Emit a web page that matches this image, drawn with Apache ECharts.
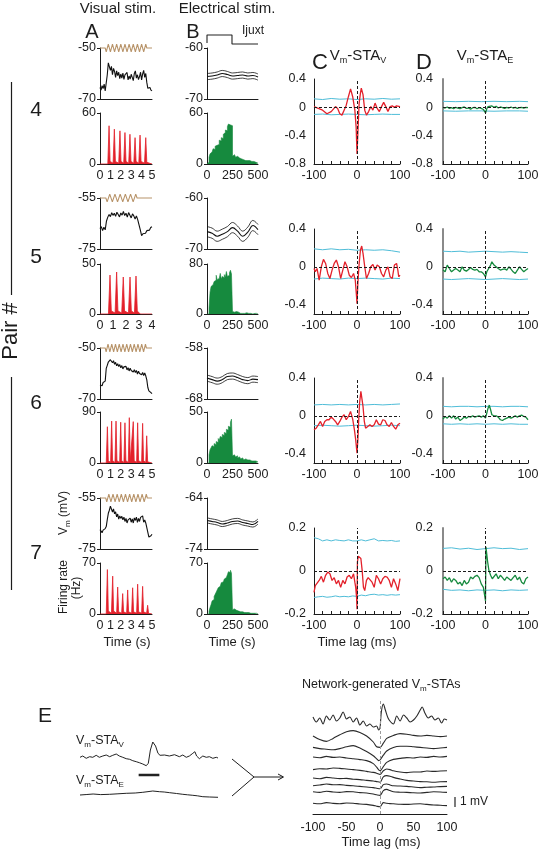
<!DOCTYPE html>
<html><head><meta charset="utf-8">
<script src="https://cdn.jsdelivr.net/npm/echarts@6/dist/echarts.min.js"></script>
<style>html,body{margin:0;padding:0;background:#fff}#c{width:538px;height:852px}</style>
</head><body><div id="c"></div>
<script>
// ---------------- DATA ----------------
// Visual stimulation (A): stimulus trace, Vm (sampled every 0.1 s), firing rate
const vis4Stim = [[0,-50],[0.5,-50],[0.6,-51.5],[0.8,-48.5],[1.0,-51.5],[1.2,-48.5],[1.4,-51.5],[1.6,-48.5],[1.8,-51.5],[2.0,-48.5],[2.2,-51.5],[2.4,-48.5],[2.6,-51.5],[2.8,-48.5],[3.0,-51.5],[3.2,-48.5],[3.4,-51.5],[3.6,-48.5],[3.8,-51.5],[4.0,-48.5],[4.2,-51.5],[4.4,-48.5],[4.5,-50],[5,-50]];
const vis4Vm = [-65.5,-66.5,-64.8,-65.9,-64.2,-66.8,-67.2,-60.5,-55.8,-56.5,-58.8,-57.2,-60.5,-58.0,-59.2,-61.5,-59.0,-60.8,-59.5,-62.0,-60.2,-61.8,-59.8,-62.3,-60.5,-61.2,-59.6,-62.5,-61.0,-62.2,-60.3,-61.5,-62.8,-60.0,-59.0,-61.8,-60.5,-62.4,-61.2,-59.5,-62.5,-60.2,-58.8,-61.5,-60.0,-63.5,-65.8,-66.2,-65.5,-66.5,-66.8];
const vis4Rate = [[0,0],[0.75,0],[0.87,45],[0.97,3],[1.26,1],[1.38,41],[1.48,3],[1.8,1],[1.92,39],[2.02,3],[2.28,1],[2.4,37],[2.5,3],[2.76,1],[2.88,35],[2.98,3],[3.25,1],[3.37,31],[3.47,3],[3.73,1],[3.85,34],[3.95,3],[4.28,1],[4.4,31],[4.5,2],[4.6,0],[5,0]];

const vis5Stim = [[0,-55],[0.45,-55],[0.55,-56.5],[0.75,-53.5],[0.95,-56.5],[1.15,-53.5],[1.35,-56.5],[1.55,-53.5],[1.75,-56.5],[1.95,-53.5],[2.15,-56.5],[2.35,-53.5],[2.55,-56.5],[2.75,-53.5],[2.85,-55],[4,-55]];
const vis5Vm = [-67.0,-66.2,-67.8,-66.5,-67.5,-64.0,-62.5,-61.5,-62.3,-60.8,-61.8,-61.0,-62.2,-60.6,-61.5,-62.4,-60.9,-61.7,-60.3,-61.9,-61.0,-62.5,-60.7,-61.4,-62.8,-61.2,-62.0,-63.2,-62.0,-63.5,-64.0,-67.5,-69.8,-69.0,-68.5,-68.8,-67.8,-67.2,-67.6,-66.6,-66.3];
const vis5Rate = [[0,0],[0.65,0],[0.77,39],[0.87,3],[1.16,1],[1.28,42],[1.38,3],[1.67,1],[1.79,37],[1.89,3],[2.19,1],[2.31,37],[2.41,3],[2.65,1],[2.77,38],[2.87,3],[3.1,0],[3.2,2],[3.3,0],[4,0]];

const vis6Stim = [[0,-50],[0.5,-50],[0.59,-51.5],[0.77,-48.5],[0.95,-51.5],[1.13,-48.5],[1.31,-51.5],[1.49,-48.5],[1.67,-51.5],[1.85,-48.5],[2.03,-51.5],[2.21,-48.5],[2.39,-51.5],[2.57,-48.5],[2.75,-51.5],[2.93,-48.5],[3.11,-51.5],[3.29,-48.5],[3.47,-51.5],[3.65,-48.5],[3.83,-51.5],[4.01,-48.5],[4.19,-51.5],[4.37,-48.5],[4.46,-50],[5,-50]];
const vis6Vm = [-64.5,-63.8,-64.8,-63.5,-63.9,-63.0,-58.0,-56.8,-55.5,-56.2,-54.6,-54.0,-55.8,-55.0,-56.4,-55.6,-57.0,-56.2,-57.3,-56.5,-57.8,-56.9,-58.2,-57.4,-58.0,-57.2,-58.6,-57.7,-59.0,-57.9,-58.8,-58.2,-59.4,-58.5,-59.6,-58.8,-60.2,-59.1,-60.0,-59.3,-60.5,-59.6,-60.8,-59.8,-60.9,-62.5,-65.5,-66.8,-66.2,-67.5,-67.9];
const vis6Rate = [[0,0],[0.6,0],[0.71,64],[0.8,4],[1.02,1],[1.12,74],[1.21,4],[1.44,1],[1.54,74],[1.63,4],[1.89,1],[1.99,72],[2.08,4],[2.3,1],[2.4,71],[2.49,4],[2.72,1],[2.82,80],[2.91,4],[3.1,1],[3.2,73],[3.29,4],[3.52,1],[3.62,71],[3.71,4],[4.0,1],[4.1,70],[4.19,4],[4.4,1],[4.49,48],[4.58,2],[4.7,0],[5,0]];

const vis7Stim = [[0,-55],[0.55,-55],[0.65,-56.5],[0.85,-53.5],[1.05,-56.5],[1.25,-53.5],[1.45,-56.5],[1.65,-53.5],[1.85,-56.5],[2.05,-53.5],[2.25,-56.5],[2.45,-53.5],[2.65,-56.5],[2.85,-53.5],[3.05,-56.5],[3.25,-53.5],[3.45,-56.5],[3.65,-53.5],[3.85,-56.5],[4.05,-53.5],[4.25,-56.5],[4.45,-53.5],[4.55,-55],[5,-55]];
const vis7Vm = [-67.4,-68.0,-68.6,-67.6,-68.2,-67.0,-66.2,-63.5,-61.0,-59.8,-58.2,-57.8,-60.5,-59.3,-61.2,-60.4,-62.4,-61.3,-63.3,-62.0,-63.0,-62.2,-63.6,-62.5,-64.2,-63.0,-64.8,-63.6,-64.3,-62.9,-64.5,-63.2,-64.8,-62.8,-63.8,-62.5,-64.6,-63.0,-64.2,-62.6,-63.0,-62.0,-64.5,-63.6,-64.8,-65.5,-68.5,-70.3,-70.8,-69.8,-69.2];
const vis7Rate = [[0,0],[0.6,0],[0.71,61],[0.8,4],[1.1,1],[1.22,52],[1.31,4],[1.6,1],[1.7,37],[1.79,3],[2.08,1],[2.18,28],[2.27,3],[2.56,1],[2.66,33],[2.75,3],[3.04,1],[3.14,36],[3.23,3],[3.52,1],[3.62,41],[3.71,3],[4.0,1],[4.1,38],[4.19,3],[4.48,1],[4.58,12],[4.67,1],[4.8,0],[5,0]];

// Electrical stimulation (B): Vm mean / +-SEM every 50 ms, firing rate in 10 ms bins
const ijuxtStep = [[0,0.1],[0,1],[245,1],[245,0],[500,0]];
const elec4Mean = [-65.6,-65.5,-65.3,-65.0,-65.2,-65.5,-65.4,-65.3,-65.5,-65.4,-65.7];
const elec4Up   = [-65.0,-64.9,-64.7,-64.4,-64.6,-64.9,-64.8,-64.7,-64.9,-64.8,-65.1];
const elec4Low  = [-66.2,-66.1,-65.9,-65.6,-65.8,-66.1,-66.0,-65.9,-66.1,-66.0,-66.3];
const elec4Rate = [0,2,8,12,14,16,18,17,21,22,24,23,28,27,31,30,35,37,40,39,44,47,46,48,45,9,11,10,8,9,8,7,7,6,6,5,5,4,5,4,3,4,3,3,2,3,2,2,1,1];

const elec5Mean = [-66.6,-66.9,-67.5,-67.1,-66.6,-65.8,-66.5,-67.5,-66.7,-65.4,-66.2];
const elec5Up   = [-65.6,-65.9,-66.5,-66.1,-65.6,-64.8,-65.5,-66.5,-65.7,-64.4,-65.2];
const elec5Low  = [-67.6,-67.9,-68.5,-68.1,-67.6,-66.8,-67.5,-68.5,-67.7,-66.4,-67.2];
const elec5Rate = [0,0,10,35,44,47,50,52,54,62,55,57,58,65,56,60,58,63,59,68,60,62,66,70,64,4,3,3,4,2,3,2,1,2,1,2,1,1,2,1,1,0,1,1,0,1,1,0,1,0];

const elec6Mean = [-63.9,-64.2,-64.5,-64.2,-63.6,-63.5,-63.8,-64.2,-64.4,-64.1,-64.2];
const elec6Up   = [-63.3,-63.6,-63.9,-63.6,-63.0,-62.9,-63.2,-63.6,-63.8,-63.5,-63.6];
const elec6Low  = [-64.5,-64.8,-65.1,-64.8,-64.2,-64.1,-64.4,-64.8,-65.0,-64.7,-64.8];
const elec6Rate = [0,0,8,13,15,17,16,19,18,21,20,24,22,26,25,28,27,30,29,33,32,36,35,40,43,7,8,7,6,7,5,6,5,4,5,4,3,4,3,3,2,3,2,2,3,2,1,2,1,1];

const elec7Mean = [-68.4,-68.6,-68.8,-69.1,-68.9,-68.6,-68.5,-68.8,-69.0,-69.2,-68.6];
const elec7Up   = [-67.9,-68.1,-68.3,-68.6,-68.4,-68.1,-68.0,-68.3,-68.5,-68.7,-68.1];
const elec7Low  = [-68.9,-69.1,-69.3,-69.6,-69.4,-69.1,-69.0,-69.3,-69.5,-69.7,-69.1];
const elec7Rate = [0,0,4,9,13,18,20,24,27,30,33,36,38,40,43,44,46,48,50,52,54,58,57,60,56,6,7,6,5,5,4,4,3,3,3,2,2,2,2,1,2,1,1,1,1,1,1,0,1,0];

// Vm-STA_V (C) and Vm-STA_E (D): [lag ms, value], with significance bands
const staV4 = [[-100,0.01],[-90,-0.015],[-80,-0.04],[-70,-0.09],[-60,-0.06],[-50,0.01],[-45,-0.015],[-40,-0.09],[-35,-0.11],[-30,-0.04],[-25,0.03],[-20,0.15],[-15,0.26],[-10,0.15],[-5,-0.04],[-2,-0.28],[0,-0.66],[2,-0.37],[5,0.06],[8,0.2],[10,0.27],[14,0.18],[18,-0.04],[22,-0.11],[27,-0.06],[32,0.01],[37,-0.04],[42,0.06],[47,-0.015],[52,-0.06],[57,0.01],[62,0.07],[67,0.01],[72,-0.06],[77,0.01],[82,0.02],[87,0.0],[92,0.02],[100,0.01]];
const staV4Up  = [[-100,0.12],[-80,0.11],[-60,0.125],[-40,0.115],[-20,0.12],[0,0.11],[20,0.12],[40,0.115],[60,0.125],[80,0.115],[100,0.12]];
const staV4Low = [[-100,-0.1],[-80,-0.095],[-60,-0.105],[-40,-0.1],[-20,-0.095],[0,-0.1],[20,-0.105],[40,-0.1],[60,-0.095],[80,-0.1],[100,-0.1]];
const staE4 = [[-100,0],[-95,-0.01],[-90,0.005],[-85,-0.015],[-80,-0.005],[-75,-0.02],[-70,0],[-65,-0.01],[-60,-0.02],[-55,-0.005],[-50,0.005],[-45,-0.015],[-40,-0.01],[-35,-0.025],[-30,-0.005],[-25,0],[-20,-0.02],[-15,-0.005],[-10,-0.015],[-5,-0.03],[0,-0.08],[3,-0.02],[6,0.01],[10,0.03],[15,0.02],[20,0.0],[25,0.015],[30,-0.01],[35,0.005],[40,-0.005],[45,-0.015],[50,0],[55,-0.01],[60,0.005],[65,-0.01],[70,0],[75,-0.015],[80,-0.005],[85,0],[90,-0.01],[95,0],[100,-0.005]];
const staE4Up  = [[-100,0.085],[-70,0.08],[-40,0.085],[-10,0.08],[20,0.085],[50,0.08],[80,0.085],[100,0.08]];
const staE4Low = [[-100,-0.05],[-70,-0.055],[-40,-0.05],[-10,-0.05],[20,-0.055],[50,-0.05],[80,-0.05],[100,-0.055]];

const staV5 = [[-100,-0.018],[-97,-0.053],[-93,-0.018],[-88,-0.142],[-83,0],[-78,0.078],[-73,0.035],[-68,-0.071],[-63,-0.124],[-58,-0.035],[-53,0.035],[-48,0.071],[-43,0],[-38,-0.124],[-33,-0.035],[-28,0.053],[-23,0],[-18,-0.089],[-13,-0.113],[-8,-0.071],[-4,-0.142],[-1,-0.319],[0,-0.39],[2,-0.177],[5,0.035],[8,0.177],[11,0.22],[14,0.142],[18,0],[22,-0.124],[27,-0.071],[32,0],[37,0.025],[42,-0.035],[47,0.018],[52,0],[57,-0.071],[62,-0.106],[67,-0.035],[72,0],[77,-0.106],[82,-0.124],[87,0.018],[92,0.035],[95,-0.035],[97,-0.106],[100,-0.089]];
const staV5Up  = [[-100,0.19],[-80,0.18],[-60,0.19],[-40,0.18],[-20,0.185],[0,0.175],[20,0.18],[40,0.175],[60,0.18],[80,0.17],[100,0.155]];
const staV5Low = [[-100,-0.13],[-80,-0.12],[-60,-0.125],[-40,-0.13],[-20,-0.12],[0,-0.125],[20,-0.12],[40,-0.125],[60,-0.13],[80,-0.12],[100,-0.125]];
const staE5 = [[-100,-0.035],[-95,-0.053],[-90,0.018],[-85,-0.018],[-80,-0.053],[-75,-0.035],[-70,-0.018],[-65,-0.035],[-60,-0.053],[-55,0],[-50,-0.035],[-45,-0.046],[-40,-0.028],[-35,-0.007],[-30,-0.028],[-25,-0.035],[-20,-0.028],[-15,-0.053],[-10,-0.053],[-5,-0.071],[0,-0.106],[3,-0.053],[7,-0.035],[12,0.018],[15,0.053],[20,0.018],[25,0],[30,-0.018],[35,-0.035],[40,-0.028],[45,-0.021],[50,-0.035],[55,0],[60,-0.025],[65,-0.053],[70,-0.071],[75,-0.035],[80,0],[85,-0.028],[90,-0.053],[95,-0.035],[100,-0.018]];
const staE5Up  = [[-100,0.165],[-80,0.16],[-60,0.165],[-40,0.155],[-20,0.16],[0,0.165],[20,0.16],[40,0.155],[60,0.16],[80,0.155],[100,0.15]];
const staE5Low = [[-100,-0.13],[-80,-0.135],[-60,-0.13],[-40,-0.125],[-20,-0.13],[0,-0.135],[20,-0.13],[40,-0.125],[60,-0.13],[80,-0.135],[100,-0.13]];

const staV6 = [[-100,-0.149],[-95,-0.131],[-90,-0.096],[-85,-0.06],[-80,-0.113],[-75,-0.06],[-70,-0.042],[-65,-0.042],[-60,-0.014],[-55,-0.035],[-50,-0.06],[-45,-0.096],[-40,-0.06],[-35,-0.014],[-30,0.011],[-25,-0.042],[-20,-0.007],[-15,0.046],[-10,-0.035],[-6,-0.149],[-3,-0.255],[0,-0.396],[2,-0.255],[4,-0.042],[6,0.135],[9,0.258],[11,0.241],[14,0.099],[17,-0.06],[20,-0.131],[25,-0.113],[30,-0.096],[35,-0.113],[40,-0.096],[45,-0.042],[50,-0.088],[55,-0.096],[60,-0.042],[65,-0.05],[70,-0.096],[75,-0.113],[80,-0.071],[85,-0.113],[90,-0.142],[95,-0.096],[100,-0.078]];
const staV6Up  = [[-100,0.115],[-80,0.12],[-60,0.115],[-40,0.12],[-20,0.115],[0,0.12],[20,0.115],[40,0.12],[60,0.115],[80,0.12],[100,0.125]];
const staV6Low = [[-100,-0.105],[-80,-0.1],[-60,-0.105],[-40,-0.11],[-20,-0.105],[0,-0.1],[20,-0.105],[40,-0.11],[60,-0.105],[80,-0.1],[100,-0.105]];
const staE6 = [[-100,-0.035],[-95,-0.007],[-90,-0.025],[-85,0],[-80,-0.025],[-75,0],[-70,-0.035],[-65,-0.014],[-60,-0.05],[-55,-0.035],[-50,-0.014],[-45,-0.025],[-40,-0.007],[-35,-0.014],[-30,0],[-25,-0.014],[-20,-0.007],[-15,0],[-10,-0.014],[-5,0],[0,-0.025],[3,0.028],[6,0.081],[9,0.113],[12,0.064],[15,0.011],[20,0],[25,0],[30,-0.014],[35,-0.042],[40,-0.05],[45,-0.035],[50,-0.025],[55,-0.014],[60,-0.025],[65,-0.014],[70,0],[75,-0.014],[80,0],[85,0.007],[90,-0.007],[95,-0.014],[100,-0.042]];
const staE6Up  = [[-100,0.1],[-80,0.095],[-60,0.1],[-40,0.1],[-20,0.095],[0,0.1],[20,0.1],[40,0.095],[60,0.1],[80,0.1],[100,0.095]];
const staE6Low = [[-100,-0.085],[-80,-0.09],[-60,-0.085],[-40,-0.09],[-20,-0.085],[0,-0.09],[20,-0.085],[40,-0.09],[60,-0.085],[80,-0.09],[100,-0.09]];

const staV7 = [[-100,-0.099],[-97,-0.068],[-93,-0.076],[-88,-0.044],[-83,-0.025],[-78,-0.052],[-73,-0.02],[-68,-0.005],[-63,-0.013],[-58,-0.044],[-53,-0.031],[-48,-0.06],[-43,-0.044],[-38,-0.076],[-33,-0.044],[-28,-0.06],[-23,-0.028],[-18,-0.02],[-13,-0.036],[-8,-0.013],[-5,-0.052],[-3,-0.076],[-1,-0.123],[0,-0.178],[1,0.043],[3,0.069],[6,0.066],[9,0.058],[12,0.003],[15,-0.076],[18,-0.091],[22,-0.044],[26,-0.031],[30,-0.025],[35,-0.052],[40,-0.076],[45,-0.02],[50,-0.036],[55,-0.06],[60,-0.036],[65,-0.025],[70,-0.028],[75,-0.044],[80,-0.076],[85,-0.036],[90,-0.06],[95,-0.091],[100,-0.036]];
const staV7Up  = [[-100,0.155],[-90,0.15],[-80,0.14],[-70,0.145],[-60,0.14],[-50,0.145],[-40,0.142],[-30,0.14],[-20,0.145],[-10,0.14],[0,0.14],[10,0.145],[20,0.14],[30,0.145],[40,0.15],[50,0.14],[60,0.142],[70,0.14],[80,0.142],[90,0.138],[100,0.14]];
const staV7Low = [[-100,-0.123],[-90,-0.12],[-80,-0.118],[-70,-0.122],[-60,-0.12],[-50,-0.116],[-40,-0.12],[-30,-0.118],[-20,-0.12],[-10,-0.116],[0,-0.118],[10,-0.112],[20,-0.115],[30,-0.11],[40,-0.108],[50,-0.112],[60,-0.11],[70,-0.113],[80,-0.11],[90,-0.112],[100,-0.11]];
const staE7 = [[-100,-0.036],[-95,-0.028],[-90,-0.044],[-85,-0.031],[-80,-0.052],[-75,-0.036],[-70,-0.044],[-65,-0.06],[-60,-0.052],[-55,-0.068],[-50,-0.044],[-45,-0.06],[-40,-0.052],[-35,-0.028],[-30,-0.036],[-25,-0.025],[-20,-0.02],[-15,-0.031],[-10,-0.06],[-5,-0.076],[-2,-0.083],[0,-0.139],[1,0.113],[3,0.106],[5,0.043],[8,0.003],[12,-0.02],[16,-0.036],[20,-0.028],[25,-0.013],[30,-0.036],[35,-0.02],[40,-0.031],[45,-0.044],[50,-0.028],[55,-0.036],[60,-0.044],[65,-0.031],[70,-0.02],[75,-0.041],[80,-0.028],[85,-0.052],[90,-0.06],[95,-0.036],[100,-0.028]];
const staE7Up  = [[-100,0.105],[-80,0.108],[-60,0.102],[-40,0.106],[-20,0.1],[0,0.104],[20,0.108],[40,0.104],[60,0.106],[80,0.1],[100,0.104]];
const staE7Low = [[-100,-0.085],[-80,-0.09],[-60,-0.088],[-40,-0.092],[-20,-0.088],[0,-0.09],[20,-0.088],[40,-0.092],[60,-0.088],[80,-0.09],[100,-0.088]];

// Panel E left: example Vm-STAs (arbitrary mV offset)
const eStaV = [[-100,4.77],[-96,4.9],[-91,4.67],[-86,4.83],[-81.5,4.77],[-76.5,4.97],[-72,4.77],[-67,4.9],[-62,5.0],[-57,4.83],[-52.5,4.97],[-47.5,5.1],[-43,4.9],[-38,4.77],[-33,4.63],[-28,4.57],[-23.5,4.43],[-18.5,4.33],[-14,4.23],[-9,4.1],[-4,3.93],[-1,4.17],[2,5.5],[5.5,6.3],[9.5,5.9],[13,5.17],[16,4.97],[22.5,5.0],[29.5,4.9],[37,5.03],[44,4.83],[49,5.0],[54,4.77],[58.5,4.9],[63.5,5.17],[66.5,5.33],[69,4.9],[73,4.63],[78,4.9],[83,4.77],[87.5,4.83],[92.5,4.67],[97.5,4.77],[100,4.7]];
const eStaE = [[-100,1.0],[-90,1.05],[-81,1.1],[-70,1.04],[-57,1.07],[-45,1.12],[-33,1.17],[-20,1.2],[-9,1.27],[0,1.35],[5.5,1.4],[15,1.33],[22,1.3],[30,1.23],[40,1.15],[49,1.07],[56,1.02],[63.5,0.97],[70,0.92],[78,0.83],[88,0.8],[100,0.77]];
const eTimeBar = [[-15,3.0],[15,3.0]];

// Panel E right: network-generated Vm-STAs (mV, stacked with offsets)
const net1 = [[-100,9.7],[-95,9.2],[-90,9.6],[-85,9.0],[-80,9.8],[-75,9.4],[-70,9.9],[-65,9.3],[-60,9.6],[-55,10.2],[-50,9.5],[-45,9.7],[-40,9.2],[-35,9.6],[-30,8.9],[-25,9.3],[-20,8.8],[-15,9.0],[-10,8.7],[-5,8.8],[-2,8.4],[0,8.6],[2,10.2],[5,11.0],[8,10.4],[12,9.6],[16,9.2],[20,9.0],[25,9.8],[30,9.3],[35,9.9],[40,9.6],[45,9.2],[50,9.4],[55,9.8],[60,10.4],[63,10.7],[67,10.1],[72,9.6],[77,9.8],[82,9.4],[87,9.6],[92,9.1],[96,9.5],[100,9.4]];
const net2 = [[-100,7.8],[-90,7.44],[-80,7.26],[-70,7.56],[-60,7.92],[-50,8.22],[-40,8.34],[-30,8.16],[-20,7.8],[-10,7.2],[-5,6.72],[0,6.66],[5,7.08],[10,7.56],[20,7.86],[30,8.04],[40,7.98],[50,7.86],[60,7.8],[70,7.86],[80,7.8],[90,7.74],[100,7.8]];
const net3 = [[-100,6.66],[-90,6.54],[-80,6.48],[-70,6.42],[-60,6.54],[-50,6.72],[-40,6.84],[-30,6.6],[-20,6.24],[-10,5.82],[-5,5.52],[-2,5.34],[0,5.4],[5,5.88],[10,6.3],[20,6.66],[30,6.78],[40,6.78],[50,6.72],[60,6.66],[70,6.6],[80,6.54],[90,6.6],[100,6.66]];
const net4 = [[-100,5.7],[-90,5.62],[-80,5.76],[-70,5.66],[-60,5.7],[-50,5.6],[-40,5.52],[-30,5.44],[-20,5.34],[-10,5.04],[-5,4.68],[0,4.32],[5,4.74],[10,5.16],[20,5.46],[30,5.56],[40,5.64],[50,5.6],[60,5.7],[70,5.66],[80,5.76],[90,5.7],[100,5.76]];
const net5 = [[-100,4.44],[-90,4.52],[-80,4.5],[-70,4.6],[-60,4.56],[-50,4.5],[-40,4.44],[-30,4.36],[-20,4.26],[-10,4.16],[-5,4.08],[0,3.96],[5,4.32],[10,4.5],[15,4.44],[20,4.32],[30,4.2],[40,4.14],[50,4.2],[60,4.2],[70,4.3],[80,4.26],[90,4.3],[100,4.32]];
const net6 = [[-100,3.6],[-90,3.52],[-80,3.66],[-70,3.6],[-60,3.54],[-50,3.56],[-40,3.48],[-30,3.44],[-20,3.36],[-10,3.3],[-5,3.24],[0,3.18],[5,3.72],[10,3.84],[15,3.78],[20,3.66],[30,3.5],[40,3.36],[50,3.3],[60,3.24],[70,3.22],[80,3.18],[90,3.22],[100,3.24]];
const net7 = [[-100,2.82],[-90,2.9],[-80,3.0],[-70,2.92],[-60,2.94],[-50,2.86],[-40,2.82],[-30,2.76],[-20,2.7],[-10,2.64],[-5,2.58],[0,2.52],[5,2.94],[10,3.0],[15,2.9],[20,2.82],[30,2.8],[40,2.76],[50,2.7],[60,2.64],[70,2.68],[80,2.7],[90,2.74],[100,2.76]];
const net8 = [[-100,2.22],[-90,2.16],[-80,2.28],[-70,2.2],[-60,2.16],[-50,2.24],[-40,2.22],[-30,2.14],[-20,2.1],[-10,2.0],[-5,1.92],[0,1.86],[5,2.34],[10,2.46],[15,2.34],[20,2.22],[30,2.18],[40,2.16],[50,2.12],[60,2.1],[70,2.16],[80,2.22],[90,2.2],[100,2.16]];
const net9 = [[-100,1.08],[-90,1.02],[-80,1.14],[-70,1.06],[-60,1.02],[-50,1.1],[-40,1.08],[-30,1.0],[-20,0.96],[-10,0.86],[-5,0.78],[0,0.72],[5,1.14],[10,1.08],[15,1.04],[20,1.02],[30,0.98],[40,0.96],[50,1.0],[60,1.02],[70,0.96],[80,0.9],[90,0.88],[100,0.84]];
const netScaleBar = [[0.5,0.7],[0.5,1.7]];   // 1 mV

const pairLabels = ['4','5','6','7'];
const elecT = [0,50,100,150,200,250,300,350,400,450,500];
const staXLabels = [-100,0,100];
const netXLabels = [-100,-50,0,50,100];

// ---------------- STYLE / LAYOUT ----------------
const FONT = '"Liberation Sans", Arial, Helvetica, sans-serif';
const INK = '#1c1c1c';
const RED = '#e3212b', GREEN = '#168a3e', BROWN = '#b8946a', CYAN = '#4fbdd8';

const rows = [
  {vmTop:48,  frTop:113, frH:51, staTop:79,  staH:85, tMax:5, tLabels:[0,1,2,3,4,5],
   vVm:[-70,-50], vStim:vis4Stim, vVmData:vis4Vm, vRate:vis4Rate, vRateMax:60,
   eVm:[-70,-60], eMean:elec4Mean, eUp:elec4Up, eLow:elec4Low, eRate:elec4Rate, eRateMax:60,
   sta:[-0.8,0.4], staLab:[-0.8,-0.4,0,0.4],
   sV:staV4, sVU:staV4Up, sVL:staV4Low, sE:staE4, sEU:staE4Up, sEL:staE4Low},
  {vmTop:198, frTop:264, frH:50, staTop:229, staH:85, tMax:4, tLabels:[0,1,2,3,4],
   vVm:[-75,-55], vStim:vis5Stim, vVmData:vis5Vm, vRate:vis5Rate, vRateMax:50,
   eVm:[-70,-60], eMean:elec5Mean, eUp:elec5Up, eLow:elec5Low, eRate:elec5Rate, eRateMax:80,
   sta:[-0.5,0.4], staLab:[-0.4,0,0.4],
   sV:staV5, sVU:staV5Up, sVL:staV5Low, sE:staE5, sEU:staE5Up, sEL:staE5Low},
  {vmTop:348, frTop:412, frH:51, staTop:378, staH:85, tMax:5, tLabels:[0,1,2,3,4,5],
   vVm:[-70,-50], vStim:vis6Stim, vVmData:vis6Vm, vRate:vis6Rate, vRateMax:90,
   eVm:[-68,-58], eMean:elec6Mean, eUp:elec6Up, eLow:elec6Low, eRate:elec6Rate, eRateMax:50,
   sta:[-0.5,0.4], staLab:[-0.4,0,0.4],
   sV:staV6, sVU:staV6Up, sVL:staV6Low, sE:staE6, sEU:staE6Up, sEL:staE6Low},
  {vmTop:498, frTop:563, frH:51, staTop:528, staH:86, tMax:5, tLabels:[0,1,2,3,4,5],
   vVm:[-75,-55], vStim:vis7Stim, vVmData:vis7Vm, vRate:vis7Rate, vRateMax:70,
   eVm:[-74,-64], eMean:elec7Mean, eUp:elec7Up, eLow:elec7Low, eRate:elec7Rate, eRateMax:70,
   sta:[-0.2,0.2], staLab:[-0.2,0,0.2],
   sV:staV7, sVU:staV7Up, sVL:staV7Low, sE:staE7, sEU:staE7Up, sEL:staE7Low}
];

const grids = [], xAxes = [], yAxes = [], series = [], graphics = [];

function axis(min, max, o) {
  o = o || {};
  const ax = {
    type:'value', min:min, max:max, show: o.hidden ? false : true,
    axisLine:{show:o.line !== false, onZero:false, lineStyle:{color:o.lineColor || INK, width:o.lineWidth || 1}},
    splitLine:{show:false},
    axisTick:{show:!!o.ticks, inside:!!o.tickInside, length:3, lineStyle:{color:INK, width:1}},
    axisLabel:{show:!!o.labels, fontSize:12.5, color:INK, fontFamily:FONT,
               margin:(o.margin != null ? o.margin : 4), hideOverlap:false}
  };
  if (o.interval) ax.interval = o.interval;
  if (o.labels) ax.axisLabel.customValues = o.labels;
  if (o.ticks && o.ticks !== true) ax.axisTick.customValues = o.ticks;
  return ax;
}
function addGrid(left, top, width, height, xa, ya) {
  grids.push({left:left, top:top, width:width, height:height, containLabel:false, outerBoundsMode:'none'});
  const gi = grids.length - 1;
  xa.gridIndex = gi; ya.gridIndex = gi;
  xAxes.push(xa); yAxes.push(ya);
  return gi;
}
function addLine(gi, data, color, width, extra) {
  series.push(Object.assign({type:'line', xAxisIndex:gi, yAxisIndex:gi, data:data, symbol:'none',
    silent:true, lineStyle:{color:color, width:width}, z:3}, extra || {}));
}
const zeroMarks = {silent:true, symbol:'none', label:{show:false}, animation:false,
  lineStyle:{type:[3,2], color:INK, width:1}, data:[{yAxis:0},{xAxis:0}]};

rows.forEach(function (r, k) {
  // A : Vm
  let g = addGrid(100, r.vmTop, 52, 51, axis(0, r.tMax), axis(r.vVm[0], r.vVm[1], {labels:[r.vVm[0], r.vVm[1]], ticks:[r.vVm[0], r.vVm[1]]}));
  addLine(g, r.vVmData.map(function (v, i) { return [i * 0.1, v]; }), '#111', 1.1);
  addLine(g, r.vStim, BROWN, 1.1, {clip:false});
  // A : firing rate
  g = addGrid(100, r.frTop, 52, r.frH, axis(0, r.tMax, {labels:r.tLabels, margin:5}), axis(0, r.vRateMax, {labels:[0, r.vRateMax], ticks:[0, r.vRateMax]}));
  addLine(g, r.vRate, RED, 0.8, {areaStyle:{color:RED, opacity:1}});
  // B : Vm
  g = addGrid(207, r.vmTop, 51, 51, axis(0, 500), axis(r.eVm[0], r.eVm[1], {labels:[r.eVm[0], r.eVm[1]], ticks:[r.eVm[0], r.eVm[1]]}));
  [r.eUp, r.eMean, r.eLow].forEach(function (arr, j) {
    addLine(g, arr.map(function (v, i) { return [elecT[i], v]; }), '#111', j === 1 ? 1.1 : 0.8, {smooth:0.4});
  });
  // B : firing rate (10 ms bins)
  g = addGrid(207, r.frTop, 51, r.frH, axis(0, 500, {labels:[0, 250, 500], margin:5}), axis(0, r.eRateMax, {labels:[0, r.eRateMax], ticks:[0, r.eRateMax]}));
  addLine(g, r.eRate.map(function (v, i) { return [i * 10, v]; }).concat([[500, r.eRate[r.eRate.length - 1]]]), GREEN, 0.6,
    {step:'end', areaStyle:{color:GREEN, opacity:1}});
  // C : Vm-STA_V
  g = addGrid(314, r.staTop, 86, r.staH, axis(-100, 100, {labels:staXLabels, interval:20, ticks:true, tickInside:true, margin:5}),
      axis(r.sta[0], r.sta[1], {labels:r.staLab, margin:8}));
  addLine(g, r.sVU, CYAN, 1, {z:2});
  addLine(g, r.sVL, CYAN, 1, {z:2});
  addLine(g, r.sV, RED, 1.3, {markLine:zeroMarks});
  // D : Vm-STA_E
  g = addGrid(443, r.staTop, 85, r.staH, axis(-100, 100, {labels:staXLabels, interval:20, ticks:true, tickInside:true, margin:5}),
      axis(r.sta[0], r.sta[1], {labels:r.staLab, margin:10, lineColor:'#8a8a8a', lineWidth:2}));
  addLine(g, r.sEU, CYAN, 1, {z:2});
  addLine(g, r.sEL, CYAN, 1, {z:2});
  addLine(g, r.sE, GREEN, 1.3, {markLine:zeroMarks});
});

// Ijuxt schematic
let gI = addGrid(207, 35, 51, 9, axis(0, 500, {hidden:true}), axis(0, 1, {hidden:true}));
addLine(gI, ijuxtStep, '#222', 1.1, {clip:false});

// Panel E left
let gEL = addGrid(80, 735, 138, 70, axis(-100, 100, {hidden:true}), axis(0, 7, {hidden:true}));
addLine(gEL, eStaV, '#222', 1);
addLine(gEL, eStaE, '#222', 1);
addLine(gEL, eTimeBar, '#222', 2.5);

// Panel E right
let gER = addGrid(313, 699, 134, 115, axis(-100, 100, {labels:netXLabels, interval:50, margin:7}), axis(0, 11.5, {hidden:true}));
[net1, net2, net3, net4, net5, net6, net7, net8, net9].forEach(function (d, i) {
  const ex = i === 0 ? {markLine:{silent:true, symbol:'none', label:{show:false}, animation:false,
    lineStyle:{type:[3,2], color:'#9a9a9a', width:1}, data:[{xAxis:0}]}} : {};
  addLine(gER, d, '#2a2a2a', 1.1, Object.assign({smooth:0.3}, ex));
});
// 1 mV scale bar: separate strip sharing the same mV scale
let gSB = addGrid(450, 699, 10, 115, axis(0, 1, {hidden:true}), axis(0, 11.5, {hidden:true}));
addLine(gSB, netScaleBar, '#222', 1.2);

// ---------------- TEXT ----------------
const mctx = document.createElement('canvas').getContext('2d');
function tw(s, sz) { mctx.font = sz + 'px ' + FONT; return mctx.measureText(s).width; }
function T(x, y, text, size, o) {
  o = o || {};
  return {type:'text', x:x, y:y, rotation:o.rot || 0, silent:true, z:10,
    style:{text:text, fontSize:size, fontFamily:FONT, fill:o.color || INK, fontWeight:o.weight || 'normal',
      align:o.align || 'center', verticalAlign:'middle'}};
}
// text with subscripts: parts = [[str, isSub], ...]
function subText(x, y, parts, size, subSize, align, rot) {
  let widths = parts.map(function (p) { return tw(p[0], p[1] ? subSize : size); });
  let total = widths.reduce(function (a, b) { return a + b; }, 0);
  let cx = align === 'center' ? -total / 2 : 0;
  const children = [];
  parts.forEach(function (p, i) {
    children.push({type:'text', x:cx, y:p[1] ? size * 0.33 : 0, silent:true,
      style:{text:p[0], fontSize:p[1] ? subSize : size, fontFamily:FONT, fill:INK, align:'left', verticalAlign:'middle'}});
    cx += widths[i];
  });
  return {type:'group', x:x, y:y, rotation:rot || 0, silent:true, z:10, children:children};
}

graphics.push(T(118, 9, 'Visual stim.', 15));
graphics.push(T(227, 9, 'Electrical stim.', 15));
graphics.push(T(92, 32, 'A', 20));
graphics.push(T(193, 32, 'B', 20));
graphics.push(T(320, 63, 'C', 22));
graphics.push(T(424, 63, 'D', 22));
graphics.push(subText(358, 56, [['V',0],['m',1],['-STA',0],['V',1]], 15, 9, 'center'));
graphics.push(subText(485, 56, [['V',0],['m',1],['-STA',0],['E',1]], 15, 9, 'center'));
graphics.push(T(242, 31, 'Ijuxt', 12, {align:'left'}));
const pairY = [110, 257, 403, 553];
pairLabels.forEach(function (p, i) { graphics.push(T(36, pairY[i], p, 21)); });
graphics.push(T(11, 331, 'Pair #', 22, {rot:Math.PI / 2}));
graphics.push({type:'line', silent:true, shape:{x1:11.5, y1:82, x2:11.5, y2:295}, style:{stroke:INK, lineWidth:1.2}});
graphics.push({type:'line', silent:true, shape:{x1:11.5, y1:377, x2:11.5, y2:590}, style:{stroke:INK, lineWidth:1.2}});
graphics.push(subText(64, 513, [['V',0],['m',1],[' (mV)',0]], 12, 8, 'center', Math.PI / 2));
graphics.push(T(64, 587, 'Firing rate', 12, {rot:Math.PI / 2}));
graphics.push(T(77, 588, '(Hz)', 12, {rot:Math.PI / 2}));
graphics.push(T(127, 642, 'Time (s)', 13));
graphics.push(T(232, 642, 'Time (s)', 13));
graphics.push(T(357, 642, 'Time lag (ms)', 13));
// Panel E
graphics.push(T(45, 716, 'E', 21));
graphics.push(subText(76, 741, [['V',0],['m',1],['-STA',0],['V',1]], 12.5, 8, 'left'));
graphics.push(subText(76, 781, [['V',0],['m',1],['-STA',0],['E',1]], 12.5, 8, 'left'));
graphics.push({type:'polyline', silent:true, shape:{points:[[232,759],[254,777],[232,796]]}, style:{stroke:INK, lineWidth:1, fill:null}});
graphics.push({type:'line', silent:true, shape:{x1:254, y1:777, x2:283, y2:777}, style:{stroke:INK, lineWidth:1}});
graphics.push({type:'polyline', silent:true, shape:{points:[[278,774],[283.5,777],[278,780]]}, style:{stroke:INK, lineWidth:1, fill:null}});
graphics.push(subText(302, 685, [['Network-generated V',0],['m',1],['-STAs',0]], 12.5, 8, 'left'));
graphics.push(T(460, 802, '1 mV', 12, {align:'left'}));
graphics.push(T(381, 842, 'Time lag (ms)', 13));

const chart = echarts.init(document.getElementById('c'), null, {renderer:'canvas'});
chart.setOption({
  animation:false, backgroundColor:'#fff',
  grid:grids, xAxis:xAxes, yAxis:yAxes, series:series, graphic:{elements:graphics}
});
</script></body></html>
